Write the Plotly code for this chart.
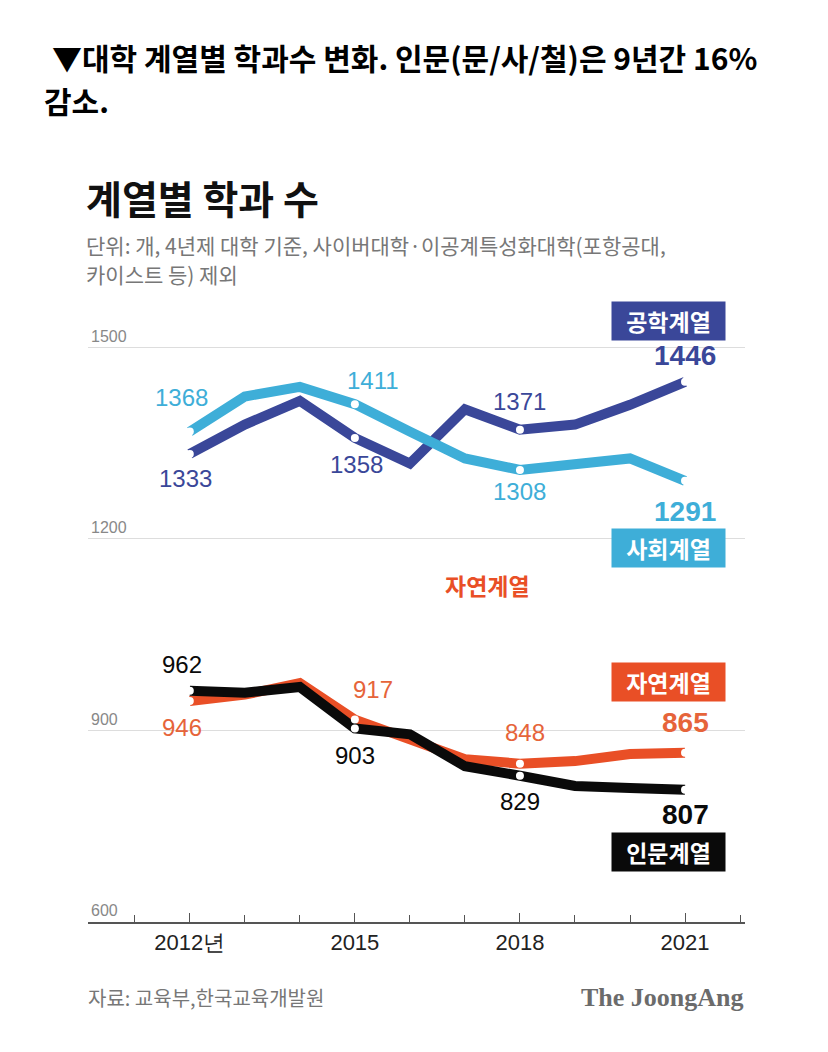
import plotly.graph_objects as go

# 계열별 학과 수 (단위: 개)
years = [2012, 2013, 2014, 2015, 2016, 2017, 2018, 2019, 2020, 2021]
engineering = [1333, 1379, 1416, 1358, 1318, 1403, 1371, 1379, 1410, 1446]   # 공학계열
social = [1368, 1423, 1438, 1411, 1368, 1326, 1308, 1316, 1326, 1291]        # 사회계열
natural = [946, 956, 974, 917, 886, 855, 848, 852, 863, 865]                 # 자연계열
humanities = [962, 959, 968, 903, 894, 844, 829, 813, 810, 807]              # 인문계열

label_years = [2012, 2015, 2018, 2021]
tick_text = ['2012년', '2015', '2018', '2021']
y_ticks = [600, 900, 1200, 1500]

C_ENG = '#3a4799'
C_SOC = '#3eaed8'
C_NAT = '#e94f26'
C_HUM = '#0a0a0a'
KR = 'Noto Sans CJK KR'
NUM = 'Liberation Sans, Arial'

# the page puts the figure 8px in from the top-left corner
OFF = 8
W, H = 828 - 2 * OFF, 1052 - 2 * OFF
L, T = 88 - OFF, 309 - OFF
R, B = W - (745 - OFF), H - (922 - OFF)
PW, PH = W - L - R, H - T - B


def px(x):
    return (x - OFF - L) / PW


def py(y):
    return (H - B - (y - OFF)) / PH


fig = go.Figure()

series = [
    ('공학계열', engineering, C_ENG),
    ('사회계열', social, C_SOC),
    ('자연계열', natural, C_NAT),
    ('인문계열', humanities, C_HUM),
]
for name, vals, col in series:
    fig.add_trace(go.Scatter(
        x=years, y=vals, mode='lines', name=name,
        line=dict(color=col, width=10), hoverinfo='skip',
    ))
for name, vals, col in series:
    fig.add_trace(go.Scatter(
        x=label_years, y=[vals[years.index(y)] for y in label_years],
        mode='markers', marker=dict(color='white', size=8, line=dict(width=0)),
        hoverinfo='skip', showlegend=False,
    ))

# value labels with their pixel shifts from the point
label_specs = [
    (engineering, C_ENG, [(-4, -25), (2, -27), (0, 28), (0, 26)]),
    (social, C_SOC, [(-8, 34), (18, 24), (0, -22), (0, -31)]),
    (natural, '#e6643a', [(-8, -26), (18, 30), (5, 31), (0, 30)]),
    (humanities, C_HUM, [(-8, 26), (0, -27), (0, -26), (0, -25)]),
]
for vals, col, shifts in label_specs:
    for i, (yr, (dx, dy)) in enumerate(zip(label_years, shifts)):
        last = i == len(label_years) - 1
        fig.add_annotation(
            x=yr, y=vals[years.index(yr)], text=str(vals[years.index(yr)]),
            showarrow=False, xshift=dx, yshift=dy,
            font=dict(family=NUM, size=28 if last else 24,
                      color=col, weight='bold' if last else 'normal'),
        )

# series name boxes
for name, col, cy in [('공학계열', C_ENG, 321), ('사회계열', C_SOC, 548),
                      ('자연계열', C_NAT, 682), ('인문계열', C_HUM, 852)]:
    fig.add_annotation(
        xref='paper', yref='paper', x=px(668), y=py(cy), text='<b>' + name + '</b>',
        xanchor='center', yanchor='middle',
        showarrow=False, bgcolor=col, width=113, height=38, borderpad=0,
        font=dict(family=KR, size=23, color='white'),
    )
fig.add_annotation(
    xref='paper', yref='paper', x=px(487), y=py(585), text='<b>자연계열</b>',
    xanchor='center', yanchor='middle',
    showarrow=False, font=dict(family=KR, size=23, color=C_NAT),
)

# texts
texts = [
    (50, 57, '<b>▼대학 계열별 학과수 변화. 인문(문/사/철)은 9년간 16%</b>', 30, '#000000'),
    (42, 100, '<b>감소.</b>', 30, '#000000'),
    (84, 197, '<b>계열별 학과 수</b>', 39, '#111111'),
    (84, 245, '단위: 개, 4년제 대학 기준, 사이버대학·이공계특성화대학(포항공대,', 21, '#777777'),
    (84, 274, '카이스트 등) 제외', 21, '#777777'),
    (86, 997, '자료: 교육부,한국교육개발원', 20, '#777777'),
]
for x, y, t, s, c in texts:
    fig.add_annotation(
        xref='paper', yref='paper', x=px(x), y=py(y), text=t, showarrow=False,
        xanchor='left', yanchor='middle', align='left',
        font=dict(family=KR, size=s, color=c),
    )
fig.add_annotation(
    xref='paper', yref='paper', x=px(746), y=py(997), text='<b>The JoongAng</b>',
    showarrow=False, xanchor='right', yanchor='middle',
    font=dict(family='Liberation Serif, DejaVu Serif', size=26, color='#6b6b6b'),
)

fig.update_layout(
    width=W, height=H,
    margin=dict(l=L, r=R, t=T, b=B),
    paper_bgcolor='white', plot_bgcolor='white',
    showlegend=False,
    xaxis=dict(
        range=[2010.15, 2022.09], tickvals=label_years, ticktext=tick_text,
        ticks='inside', ticklen=9, tickcolor='#555555', tickwidth=1,
        minor=dict(ticks='inside', dtick=1, tick0=2012, ticklen=7, tickcolor='#555555'),
        showgrid=False, zeroline=False,
        showline=True, linecolor='#555555', linewidth=2,
        tickfont=dict(family=NUM, size=22, color='#222222'),
    ),
    yaxis=dict(
        range=[600, 1560], tickvals=y_ticks,
        ticklabelposition='inside top', ticks='',
        showgrid=True, gridcolor='#dddddd', gridwidth=1, zeroline=False,
        tickfont=dict(family=NUM, size=16, color='#888888'),
    ),
)

fig.write_html('out.html')
